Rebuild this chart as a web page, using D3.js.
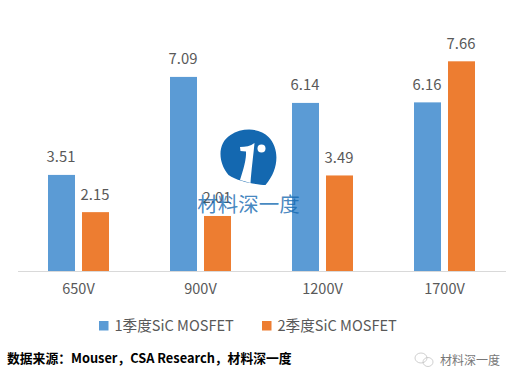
<!DOCTYPE html>
<html>
<head>
<meta charset="utf-8">
<title>SiC MOSFET</title>
<script src="https://d3js.org/d3.v7.min.js"></script>
<style>
html, body { margin: 0; padding: 0; background: #fff; }
svg { display: block; }
text { font-family: "Noto Sans CJK SC", "Open Sans", sans-serif; }
.tick text, .value, .legend { fill: #595959; }
</style>
</head>
<body>
<svg class="chart" width="516" height="383"></svg>
<script>
var categories = ["650V", "900V", "1200V", "1700V"];
var seriesNames = ["1季度SiC MOSFET", "2季度SiC MOSFET"];
var q1Values = [3.51, 7.09, 6.14, 6.16];
var q2Values = [2.15, 2.01, 3.49, 7.66];
var colors = ["#5b9bd5", "#ed7d31"];

var chart = d3.select(".chart");

var xScale = d3.scaleBand().domain(categories).range([17.5, 505.5]);
var xInner = d3.scaleBand().domain([0, 1]).range([-30.5, 30.5]).paddingInner(0.206);
var yScale = d3.scaleLinear().domain([0, 8]).range([271, 52]);

var xAxis = d3.axisBottom(xScale).tickSize(0).tickPadding(13);

[q1Values, q2Values].forEach(function (values, s) {
    chart.append("g").selectAll("rect")
        .data(values).enter().append("rect")
            .attr("x", function (d, i) { return xScale(categories[i]) + xScale.bandwidth() / 2 + xInner(s); })
            .attr("y", function (d) { return yScale(d); })
            .attr("width", xInner.bandwidth())
            .attr("height", function (d) { return yScale(0) - yScale(d); })
            .attr("fill", colors[s]);

    chart.append("g").selectAll("text")
        .data(values).enter().append("text")
            .attr("class", "value")
            .attr("x", function (d, i) { return xScale(categories[i]) + xScale.bandwidth() / 2 + xInner(s) + xInner.bandwidth() / 2 - 0.5; })
            .attr("y", function (d) { return yScale(d) - 12.5; })
            .attr("text-anchor", "middle")
            .attr("font-size", 14.8)
            .text(function (d) { return d.toFixed(2); });
});

var axisG = chart.append("g")
    .attr("transform", "translate(0," + yScale(0) + ")")
    .call(xAxis);
axisG.select(".domain").attr("stroke", "#d9d9d9").attr("stroke-width", 1);
axisG.selectAll("text").attr("font-size", 14.5);

// legend
var legendX = [99, 262];
seriesNames.forEach(function (name, i) {
    chart.append("rect")
        .attr("x", legendX[i]).attr("y", 321)
        .attr("width", 9.5).attr("height", 9.5)
        .attr("fill", colors[i]);
    chart.append("text")
        .attr("class", "legend")
        .attr("x", legendX[i] + 15.5).attr("y", 330.5)
        .attr("font-size", 14.6)
        .text(name);
});

// source line
chart.append("text")
    .attr("x", 7).attr("y", 363)
    .attr("font-size", 12.8).attr("font-weight", "bold")
    .attr("fill", "#000")
    .text("数据来源：Mouser，CSA Research，材料深一度");

// watermark logo
var logo = chart.append("g").attr("transform", "translate(248.5,157)");
logo.append("path")
    .attr("d", "M-20,18 C-31,5 -31,-14 -18,-22 C-6,-30 12,-29 20,-20 C31,-9 31,12 17,28 C10,28 -10,25 -20,18 Z")
    .attr("fill", "#1468b0");
logo.append("path")
    .attr("d", "M-8.5,-10 C-3,-10 2,-11 6,-14 C5,-3 3,12 2,26 L-8.5,23 C-5,12 -2,2 -2.5,-5.5 L-8,-6 Z")
    .attr("fill", "#fff");
logo.append("circle").attr("cx", 13).attr("cy", -8.5).attr("r", 4).attr("fill", "#fff");
chart.append("text")
    .attr("x", 248.5).attr("y", 212)
    .attr("text-anchor", "middle")
    .attr("font-size", 20.5)
    .attr("fill", "#1468b0")
    .attr("fill-opacity", 0.8)
    .text("材料深一度");

// wechat account mark
var wx = chart.append("g").attr("fill", "none").attr("stroke", "#bbb").attr("stroke-width", 0.7);
wx.append("ellipse").attr("cx", 421).attr("cy", 358).attr("rx", 6).attr("ry", 5);
wx.append("ellipse").attr("cx", 428).attr("cy", 362).attr("rx", 5).attr("ry", 4.5);
chart.append("text")
    .attr("x", 440).attr("y", 365)
    .attr("font-size", 12)
    .attr("fill", "#777")
    .text("材料深一度");
</script>
</body>
</html>
